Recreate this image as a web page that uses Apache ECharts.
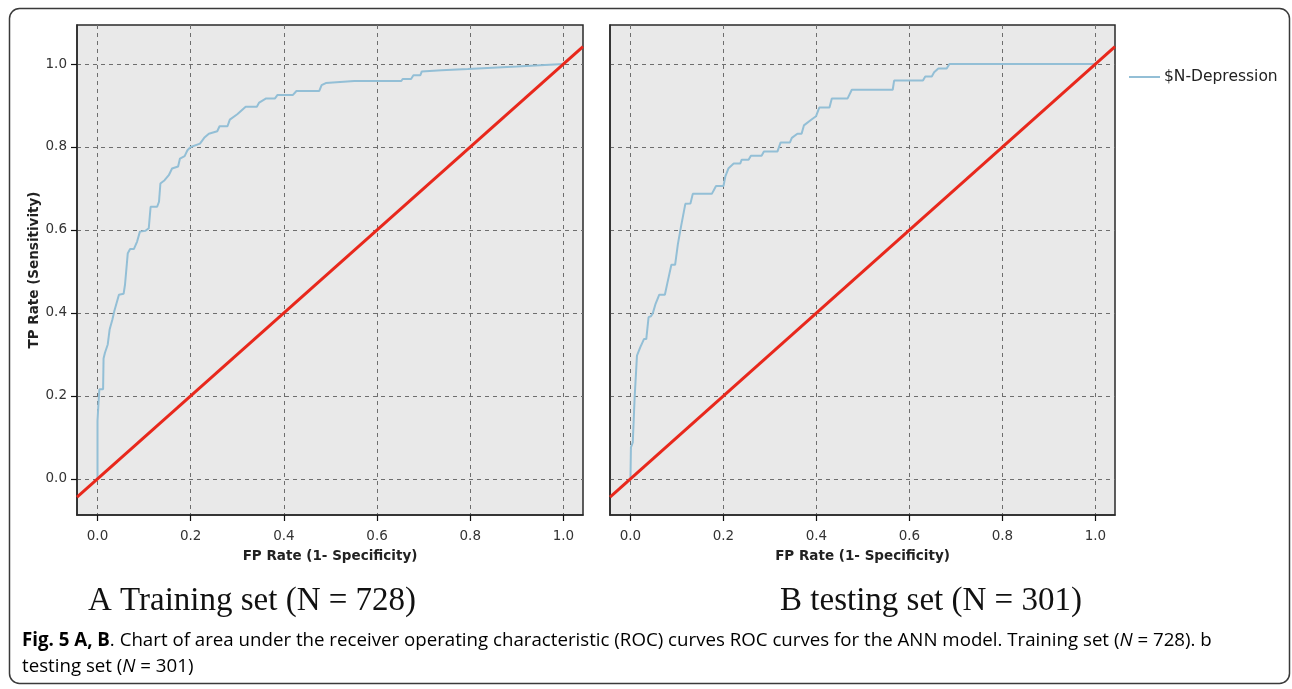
<!DOCTYPE html>
<html>
<head>
<meta charset="utf-8">
<script src="https://cdn.jsdelivr.net/npm/echarts@6/dist/echarts.min.js"></script>
<style>
html,body{margin:0;padding:0;background:#fff;}
#chart{width:1292px;height:689px;}
</style>
</head>
<body>
<div id="chart"></div>
<script>
// ---------- data ----------
const tickValues = [0, 0.2, 0.4, 0.6, 0.8, 1.0];
const seriesName = '$N-Depression';
const xAxisTitle = 'FP Rate (1- Specificity)';
const yAxisTitle = 'TP Rate (Sensitivity)';
const panelTitles = ['A Training set (N = 728)', 'B testing set (N = 301)'];

// Training set ROC curve [FPR, TPR]
const trainCurve = [
  [0,0],[0,0.14],[0.002,0.18],[0.004,0.216],[0.012,0.216],[0.013,0.29],[0.016,0.304],
  [0.022,0.324],[0.026,0.36],[0.032,0.384],[0.036,0.404],[0.046,0.444],[0.056,0.446],
  [0.059,0.468],[0.065,0.544],[0.07,0.554],[0.078,0.554],[0.085,0.572],[0.091,0.596],
  [0.103,0.598],[0.11,0.604],[0.114,0.656],[0.128,0.656],[0.132,0.668],[0.135,0.712],
  [0.144,0.72],[0.153,0.732],[0.16,0.748],[0.173,0.753],[0.177,0.772],[0.187,0.778],
  [0.193,0.792],[0.2,0.8],[0.22,0.808],[0.229,0.822],[0.239,0.832],[0.257,0.838],
  [0.262,0.85],[0.279,0.85],[0.284,0.866],[0.3,0.879],[0.318,0.897],[0.342,0.897],
  [0.347,0.907],[0.362,0.917],[0.381,0.917],[0.386,0.925],[0.419,0.925],[0.427,0.935],
  [0.476,0.935],[0.481,0.949],[0.49,0.954],[0.551,0.959],[0.652,0.959],[0.655,0.964],
  [0.673,0.964],[0.678,0.973],[0.693,0.973],[0.696,0.982],[0.738,0.985],[0.741,0.988],
  [0.795,0.988],[0.9,0.994],[1.0,1.0]
];

// Testing set ROC curve [FPR, TPR]
const testCurve = [
  [0,0],[0.001,0.076],[0.005,0.088],[0.009,0.197],[0.014,0.297],[0.021,0.317],
  [0.029,0.337],[0.034,0.337],[0.039,0.39],[0.044,0.392],[0.048,0.399],[0.054,0.422],
  [0.062,0.444],[0.074,0.444],[0.079,0.47],[0.088,0.516],[0.096,0.516],[0.102,0.566],
  [0.109,0.61],[0.118,0.663],[0.129,0.664],[0.134,0.687],[0.175,0.687],[0.184,0.706],
  [0.2,0.706],[0.204,0.729],[0.211,0.749],[0.222,0.76],[0.236,0.76],[0.239,0.769],
  [0.254,0.769],[0.259,0.779],[0.282,0.779],[0.287,0.789],[0.316,0.789],[0.323,0.811],
  [0.343,0.811],[0.347,0.822],[0.359,0.832],[0.368,0.832],[0.373,0.852],[0.388,0.865],
  [0.399,0.874],[0.406,0.895],[0.428,0.895],[0.433,0.917],[0.467,0.917],[0.476,0.938],
  [0.564,0.938],[0.567,0.96],[0.629,0.96],[0.634,0.97],[0.648,0.97],[0.653,0.98],
  [0.662,0.989],[0.68,0.989],[0.686,1.0],[1.0,1.0]
];

// Axis extents (read from frame positions)
const xRange = [-0.044, 1.042];
const yRange = [-0.087, 1.094];
// Reference (chance) diagonal
const diagonal = [[xRange[0], xRange[0]], [xRange[1], xRange[1]]];

// ---------- chart ----------
const chart = echarts.init(document.getElementById('chart'));
const fmt = v => Number(v).toFixed(1);
const sansFont = '"DejaVu Sans", Verdana, sans-serif';
const frameColor = '#2a2a2a';
const gridStyle = {show: true, backgroundColor: '#e9e9e9', borderColor: frameColor, borderWidth: 1.5};
const splitLine = {show: true, lineStyle: {color: '#6e6e6e', type: [4, 4], width: 1}};

function xAxisCfg(idx) {
  return {
    type: 'value', gridIndex: idx, min: xRange[0], max: xRange[1],
    axisLine: {show: true, onZero: false, lineStyle: {color: frameColor, width: 1.5}},
    axisTick: {show: true, customValues: tickValues, length: 6, inside: false, lineStyle: {color: '#111', width: 1.2}},
    axisLabel: {show: true, customValues: tickValues, formatter: fmt, color: '#333', fontSize: 13.5, fontFamily: sansFont, margin: 14},
    splitLine: splitLine,
    name: xAxisTitle, nameLocation: 'middle', nameGap: 34,
    nameTextStyle: {fontWeight: 'bold', fontSize: 13.5, color: '#222', fontFamily: sansFont}
  };
}
function yAxisCfg(idx, showLabels) {
  return {
    type: 'value', gridIndex: idx, min: yRange[0], max: yRange[1],
    axisLine: {show: true, onZero: false, lineStyle: {color: frameColor, width: 1.5}},
    axisTick: {show: showLabels, customValues: tickValues, length: 6, lineStyle: {color: '#111', width: 1.2}},
    axisLabel: {show: showLabels, customValues: tickValues, formatter: fmt, color: '#333', fontSize: 13.5, fontFamily: sansFont, margin: 10},
    splitLine: splitLine,
    name: showLabels ? yAxisTitle : '', nameLocation: 'middle', nameGap: 34, nameRotate: 90,
    nameTextStyle: {fontWeight: 'bold', fontSize: 13.5, color: '#222', fontFamily: sansFont}
  };
}

const curveStyle = {color: '#93bfd6', width: 2};
const diagStyle = {color: '#e8281c', width: 3};

const option = {
  backgroundColor: '#ffffff',
  animation: false,
  grid: [
    Object.assign({left: 77, top: 25, width: 506, height: 490}, gridStyle),
    Object.assign({left: 610, top: 25, width: 505, height: 490}, gridStyle)
  ],
  xAxis: [xAxisCfg(0), xAxisCfg(1)],
  yAxis: [yAxisCfg(0, true), yAxisCfg(1, false)],
  legend: {
    data: [seriesName], left: 1124, top: 63, icon: 'rect', itemWidth: 31, itemHeight: 2, itemGap: 5,
    textStyle: {fontSize: 15.5, color: '#222', fontFamily: sansFont, lineHeight: 18, padding: [0, 0, 0, -1]}
  },
  series: [
    {name: seriesName, type: 'line', xAxisIndex: 0, yAxisIndex: 0, data: trainCurve, showSymbol: false, symbol: 'none', lineStyle: curveStyle, itemStyle: {color: curveStyle.color}, z: 3},
    {name: seriesName, type: 'line', xAxisIndex: 1, yAxisIndex: 1, data: testCurve, showSymbol: false, symbol: 'none', lineStyle: curveStyle, itemStyle: {color: curveStyle.color}, z: 3},
    {name: 'diag1', type: 'line', xAxisIndex: 0, yAxisIndex: 0, data: diagonal, showSymbol: false, symbol: 'none', lineStyle: diagStyle, z: 4},
    {name: 'diag2', type: 'line', xAxisIndex: 1, yAxisIndex: 1, data: diagonal, showSymbol: false, symbol: 'none', lineStyle: diagStyle, z: 4}
  ],
  graphic: [
    {type: 'rect', shape: {x: 9.5, y: 8.5, width: 1280, height: 675, r: 10}, style: {fill: 'none', stroke: '#3a3a3a', lineWidth: 1.5}, z: -1, silent: true},
    {type: 'text', x: 252, y: 601, style: {text: panelTitles[0], font: '33px "Liberation Serif", "Times New Roman", serif', fill: '#111', textAlign: 'center', textVerticalAlign: 'middle'}},
    {type: 'text', x: 931, y: 601, style: {text: panelTitles[1], font: '33px "Liberation Serif", "Times New Roman", serif', fill: '#111', textAlign: 'center', textVerticalAlign: 'middle'}},
    {type: 'text', x: 22, y: 641, style: {
      text: '{b|Fig. 5 A, B}{r|. Chart of area under the receiver operating characteristic (ROC) curves ROC curves for the ANN model. Training set (}{i|N}{r| = 728). b}',
      textVerticalAlign: 'middle',
      rich: {
        b: {fontFamily: 'Open Sans', fontSize: 18.7, fontWeight: 'bold', color: '#222'},
        r: {fontFamily: 'Open Sans', fontSize: 18.7, color: '#2a2a2a'},
        i: {fontFamily: 'Open Sans', fontSize: 18.7, fontStyle: 'italic', color: '#2a2a2a'}
      }
    }},
    {type: 'text', x: 22, y: 667, style: {
      text: '{r|testing set (}{i|N}{r| = 301)}',
      textVerticalAlign: 'middle',
      rich: {
        r: {fontFamily: 'Open Sans', fontSize: 18.7, color: '#2a2a2a'},
        i: {fontFamily: 'Open Sans', fontSize: 18.7, fontStyle: 'italic', color: '#2a2a2a'}
      }
    }}
  ]
};
chart.setOption(option);
</script>
</body>
</html>
